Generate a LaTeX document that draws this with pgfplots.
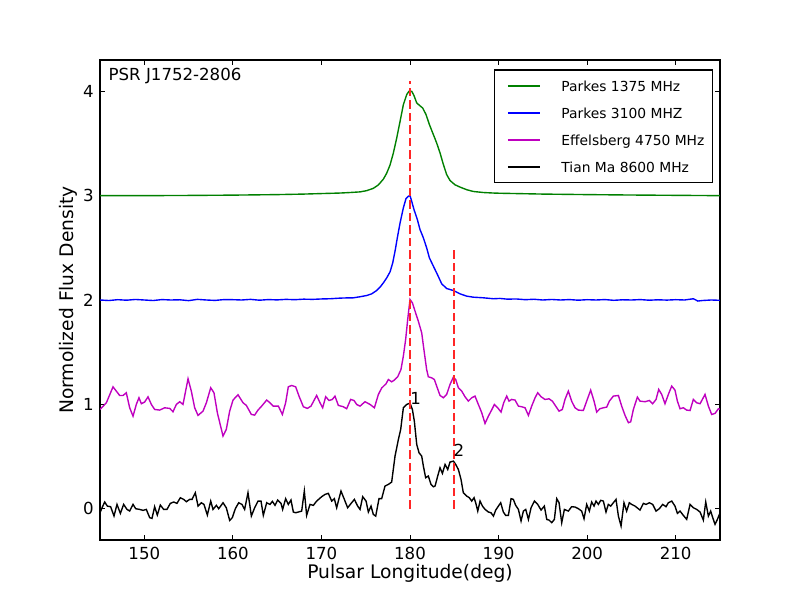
\documentclass[border=0pt]{standalone}
\usepackage{pgfplots}
\pgfplotsset{compat=1.18}
\usepackage{fontspec}
\setmainfont{DejaVu Sans}
\definecolor{mplgreen}{rgb}{0,0.5,0}
\definecolor{mplmag}{rgb}{0.75,0,0.75}
\definecolor{mplred}{rgb}{1,0.15,0.15}
\begin{document}
\begin{tikzpicture}[x=1bp,y=1bp]
\useasboundingbox (0,0) rectangle (576bp,432bp);
\begin{axis}[
 at={(72bp,43.2bp)}, anchor=south west,
 scale only axis, width=446.4bp, height=345.6bp,
 xmin=145, xmax=215, ymin=-0.3, ymax=4.3,
 xtick={150,160,...,210}, ytick={0,1,2,3,4},
 tick align=inside, major tick length=3.6bp,
 every tick/.style={black, line width=0.6bp},
 axis line style={black, line width=0.8bp},
 /pgf/number format/assume math mode=true,
 tick label style={font=\fontsize{12}{14}\selectfont},
 xticklabel style={inner sep=0pt, yshift=-4.8bp},
 yticklabel style={inner sep=0pt, xshift=-4.3bp},
 xlabel={Pulsar Longitude(deg)},
 ylabel={Normolized Flux Density},
 label style={font=\fontsize{13.5}{16}\selectfont},
 xlabel style={at={(rel axis cs:0.5,-0.0798)}, anchor=base},
 ylabel style={at={(rel axis cs:-0.0508,0.5)}, anchor=center},
 legend cell align=left,
 legend style={at={(rel axis cs:0.6355,0.9806)}, anchor=north west,
   draw=black, line width=0.9bp, fill=white,
   inner xsep=6bp, inner ysep=1.6bp, row sep=0pt, column sep=15.1bp,
   font=\fontsize{10}{12}\selectfont,
   nodes={inner sep=0pt, text height=13.82bp, text depth=5.62bp}},
 legend image code/.code={\path (0,-1bp) (0,1bp); \draw[#1, line width=1.3bp] (3.1bp,0bp) -- (25.85bp,0bp);},
]
\addplot[mplgreen, line width=1bp] coordinates {
(145,3.0)(150,3.0)(155,3.002)(160,3.005)(165,3.01)(168,3.015)(170,3.02)(172.10,3.025)(173.23,3.03)(174.36,3.036)(175.11,3.048)(175.86,3.07)(176.43,3.103)(176.99,3.158)(177.37,3.215)(177.75,3.295)(178.12,3.408)(178.50,3.552)(178.88,3.712)(179.25,3.872)(179.63,3.969)(179.89,4.001)(180.19,4.001)(180.45,3.959)(180.76,3.888)(181.06,3.866)(181.43,3.840)(181.81,3.777)(182.19,3.681)(182.64,3.585)(183.01,3.505)(183.39,3.410)(183.77,3.298)(184.14,3.202)(184.52,3.145)(185.08,3.104)(185.65,3.082)(186.40,3.057)(187.15,3.04)(188.28,3.03)(189.41,3.025)(190.16,3.023)(192,3.02)(195,3.015)(200,3.01)(205,3.006)(210,3.003)(215,3.0)
};
\addlegendentry{Parkes 1375 MHz}
\addplot[blue, line width=1bp] coordinates {
(145,2.0)(146,1.995)(147,2.003)(148,1.998)(149,2.005)(150,2.0)(151,1.995)(152,2.004)(153,2.0)(154,2.002)(155,1.994)(156,2.006)(157,2.0)(158,1.996)(159,2.004)(160,2.003)(161,2.0)(162,2.006)(163,1.998)(164,2.004)(165,2.001)(166,2.006)(167,2.003)(168,2.008)(169,2.006)(170,2.01)(171,2.012)
(172.10,2.018)(172.85,2.02)(173.61,2.021)(174.36,2.031)(175.11,2.043)(175.68,2.059)(176.24,2.091)(176.62,2.123)(176.99,2.164)(177.37,2.212)(177.75,2.270)(178.05,2.356)(178.31,2.467)(178.57,2.596)(178.88,2.739)(179.25,2.883)(179.55,2.972)(179.82,2.994)(180.00,3.001)(180.19,2.947)(180.45,2.867)(180.83,2.771)(181.13,2.675)(181.51,2.596)(181.88,2.500)(182.19,2.404)(182.64,2.324)(183.09,2.245)(183.58,2.155)(184.14,2.110)(184.89,2.091)(185.65,2.059)(186.40,2.037)(187.15,2.027)(188.28,2.021)(189.41,2.012)(190.16,2.015)
(191,2.008)(192,2.01)(193,2.003)(194,2.007)(195,2.0)(196,2.005)(197,2.0)(198,2.004)(199,1.998)(200,2.003)(201,2.0)(202,2.004)(203,1.997)(204,2.002)(205,2.0)(206,2.004)(207,1.998)(208,2.002)(209,1.999)(210,2.003)(211,2.0)(212,2.012)(212.5,1.99)(213,1.995)(214,2.0)(215,1.997)
};
\addlegendentry{Parkes 3100 MHZ}
\addplot[mplmag, line width=1bp] coordinates {
(145,0.951)(145.72,1.015)(146.47,1.168)(147.22,1.085)(147.60,1.085)(147.97,1.111)(148.35,0.967)(148.73,0.887)(149.10,0.999)(149.40,1.063)(149.67,1.006)(150.04,1.022)(150.42,1.072)(150.80,0.999)(151.17,0.951)(151.74,0.945)(152.30,0.967)(152.87,0.961)(153.24,0.929)(153.62,0.999)(154.00,1.025)(154.37,0.999)(154.94,1.245)(155.31,1.127)(155.69,0.967)(156.07,0.894)(156.63,0.935)(157.01,1.015)(157.50,1.159)(157.87,1.111)(158.25,0.919)(158.89,0.696)(159.26,0.760)(159.64,0.935)(160.02,1.041)(160.58,1.092)(161.15,1.015)(161.52,0.990)(162.09,0.903)(162.46,0.897)(162.84,0.945)
(163.25,0.983)(163.82,1.041)(164.19,1.015)(164.57,0.983)(165.14,0.983)(165.59,0.903)(165.96,1.015)(166.26,1.168)(166.64,1.181)(167.09,1.168)(167.47,1.079)(167.96,0.977)(168.41,0.961)(168.82,0.983)(169.46,1.085)(169.84,1.015)(170.14,0.967)(170.48,1.073)(170.86,1.037)(171.23,1.047)(171.53,1.079)(171.91,0.990)(172.47,0.977)(172.85,0.958)(173.30,1.047)(173.68,1.037)(173.98,0.999)(174.36,0.983)(174.92,1.025)(175.49,0.999)(175.98,0.967)(176.43,1.095)(176.80,1.156)(177.29,1.197)(177.56,1.238)(177.93,1.216)(178.23,1.232)(178.61,1.264)(178.98,1.334)(179.25,1.462)(179.51,1.622)(179.74,1.813)
(180.00,2.005)(180.27,1.973)(180.57,1.893)(180.94,1.797)(181.32,1.686)(181.62,1.494)(181.88,1.334)(182.07,1.264)(182.45,1.254)(182.75,1.238)(183.01,1.175)(183.39,1.085)(183.77,1.063)(184.14,1.095)(184.52,1.191)(184.90,1.261)(185.16,1.238)(185.46,1.159)(185.84,1.127)(186.21,1.073)(186.59,1.031)(186.97,1.063)(187.34,1.079)(187.72,0.999)(188.10,0.919)(188.47,0.817)(188.85,0.887)(189.15,0.935)(189.53,0.999)(189.90,0.967)(190.28,0.926)(190.58,1.015)(190.92,1.079)(191.18,1.031)(191.48,1.047)(191.86,1.041)(192.24,0.983)(192.61,0.977)(192.99,0.967)(193.37,0.894)(193.74,0.983)(194.12,1.063)(194.42,1.111)(194.80,1.073)(195.24,1.047)(195.70,1.053)(196.07,1.031)(196.45,0.983)(196.83,0.935)(197.20,0.951)(197.50,1.047)
(197.88,1.127)(198.25,1.031)(198.63,0.967)(199.01,0.945)(199.57,0.941)(199.95,1.031)(200.40,1.136)(200.78,1.031)(201.08,0.926)(201.45,0.958)(201.83,0.967)(202.21,0.974)(202.51,1.031)(202.96,1.079)(203.53,1.085)(203.90,0.983)(204.28,0.894)(204.66,0.824)(204.92,0.833)(205.22,0.951)(205.67,1.069)(205.97,1.031)(206.54,1.025)(207.02,1.037)(207.40,1.006)(207.78,1.047)(208.08,1.143)(208.42,1.095)(208.79,1.006)(209.17,1.095)(209.55,1.175)(209.92,1.136)(210.19,1.031)(210.49,0.958)(210.86,0.967)(211.24,0.945)(211.62,0.941)(211.99,1.047)(212.37,1.015)(212.75,1.006)(213.31,1.095)(213.69,0.983)(214.06,0.903)(214.44,0.913)(214.82,0.958)(215.08,0.951)
};
\addlegendentry{Effelsberg 4750 MHz}
\addplot[black, line width=1bp] coordinates {
(145.00,-0.039)(145.23,0.009)(145.53,0.064)(145.83,0.025)(146.20,0.019)(146.58,-0.070)(146.92,0.041)(147.30,-0.045)(147.67,0.041)(148.05,-0.007)(148.35,-0.022)(148.73,0.041)(149.03,0.000)(149.48,-0.007)(149.86,-0.016)(150.23,-0.007)(150.61,-0.086)(150.87,-0.093)(151.17,0.019)(151.47,-0.061)(151.81,0.035)(152.19,-0.007)(152.56,-0.007)(152.94,0.051)(153.32,0.064)(153.69,0.051)(154.07,0.105)(154.45,0.089)(154.75,0.067)(155.12,0.089)(155.39,0.089)(155.76,0.153)(156.07,0.025)(156.44,0.057)(156.74,0.041)(157.12,-0.061)(157.50,0.073)(157.76,-0.007)(158.14,0.032)(158.40,0.000)(158.62,0.025)(158.89,0.057)(159.26,0.009)(159.64,-0.112)(159.94,-0.086)(160.28,0.000)(160.66,0.057)(161.03,0.041)(161.33,-0.007)(161.71,0.153)(162.09,-0.070)(162.46,0.009)(162.84,0.073)
(163.18,0.073)(163.44,-0.064)(163.82,0.057)(164.19,0.041)(164.46,0.070)(164.76,0.032)(165.06,0.083)(165.44,0.051)(165.62,-0.007)(165.96,0.096)(166.26,0.041)(166.56,0.083)(166.83,-0.032)(167.09,-0.039)(167.39,-0.032)(167.77,-0.023)(168.07,0.169)(168.33,-0.064)(168.71,0.041)(169.09,0.032)(169.46,0.073)(170.03,0.115)(170.41,0.137)(170.78,0.147)(171.16,0.073)(171.46,0.096)(171.72,0.009)(171.91,0.073)(172.21,0.169)(172.59,0.089)(172.96,0.009)(173.41,0.057)(173.72,0.089)(174.09,0.025)(174.36,-0.007)(174.66,0.115)(175.04,0.073)(175.30,-0.032)(175.60,0.025)(175.86,-0.055)(176.13,-0.071)(176.50,0.096)(176.80,0.096)(177.18,0.217)(177.56,0.233)(177.93,0.255)(178.31,0.504)(178.69,0.664)(178.95,0.760)(179.25,0.967)(179.63,0.999)(180.00,1.012)
(180.27,0.951)(180.49,0.839)(180.76,0.616)(181.02,0.536)(181.32,0.504)(181.51,0.408)(181.77,0.297)(182.07,0.313)(182.37,0.233)(182.64,0.210)(182.83,0.217)(183.13,0.313)(183.39,0.392)(183.66,0.338)(183.96,0.424)(184.26,0.376)(184.52,0.447)(184.90,0.456)(185.16,0.424)(185.46,0.376)(185.76,0.281)(186.02,0.153)(186.40,0.121)(186.70,0.105)(186.97,0.073)(187.23,0.105)(187.42,0.057)(187.65,-0.023)(187.91,0.073)(188.18,0.025)(188.48,-0.007)(188.85,-0.032)(189.15,-0.039)(189.42,-0.071)(189.68,-0.013)(189.98,0.025)(190.24,0.057)(190.54,-0.032)(190.80,-0.064)(191.11,-0.064)(191.41,0.096)(191.67,0.089)(191.93,0.032)(192.24,-0.007)(192.54,-0.118)(192.80,-0.023)(193.07,-0.007)(193.37,-0.103)(193.67,0.009)(194.05,0.073)(194.42,0.041)(194.80,-0.013)(195.17,0.025)(195.44,-0.103)(195.70,-0.109)(196.00,-0.134)(196.30,-0.103)(196.57,0.096)(196.83,0.057)(197.13,-0.134)(197.43,-0.007)
(197.88,-0.023)(198.25,0.019)(198.63,0.016)(199.01,0.000)(199.38,-0.023)(199.65,-0.096)(199.95,0.041)(200.25,-0.023)(200.51,0.064)(200.78,0.025)(201.00,0.073)(201.27,0.041)(201.53,0.080)(201.83,0.073)(202.13,-0.032)(202.39,0.041)(202.66,0.025)(202.96,0.057)(203.26,0.089)(203.53,-0.071)(203.83,-0.166)(204.16,0.057)(204.46,-0.023)(204.76,0.057)(205.03,0.041)(205.41,0.025)(205.97,-0.013)(206.35,0.051)(206.65,0.041)(207.02,0.057)(207.40,0.041)(207.78,-0.023)(208.15,0.000)(208.53,0.041)(208.91,0.019)(209.17,0.057)(209.55,0.073)(209.92,0.025)(210.19,-0.045)(210.49,-0.023)(210.86,-0.064)(211.24,-0.102)(211.62,0.041)(211.99,0.009)(212.37,-0.007)(212.75,-0.032)(213.12,-0.109)(213.39,0.064)(213.69,-0.071)(213.95,-0.023)(214.18,-0.086)(214.44,-0.150)(214.71,-0.102)(215.01,-0.039)
};
\addlegendentry{Tian Ma 8600 MHz}
\addplot[mplred, line width=1.5bp, dash pattern=on 6bp off 3bp, forget plot] coordinates {(180,0) (180,4.1)};
\addplot[mplred, line width=1.5bp, dash pattern=on 6bp off 3bp, forget plot] coordinates {(185,0) (185,2.5)};
\node[anchor=base west, inner sep=0pt, font=\fontsize{12}{14}\selectfont] at (axis cs:180,1.0) {1};
\node[anchor=base west, inner sep=0pt, font=\fontsize{12}{14}\selectfont] at (axis cs:184.9,0.5) {2};
\node[anchor=base west, inner sep=0pt, font=\fontsize{12}{14}\selectfont] at (axis cs:145.95,4.10) {PSR J1752-2806};
\end{axis}
\end{tikzpicture}
\end{document}
